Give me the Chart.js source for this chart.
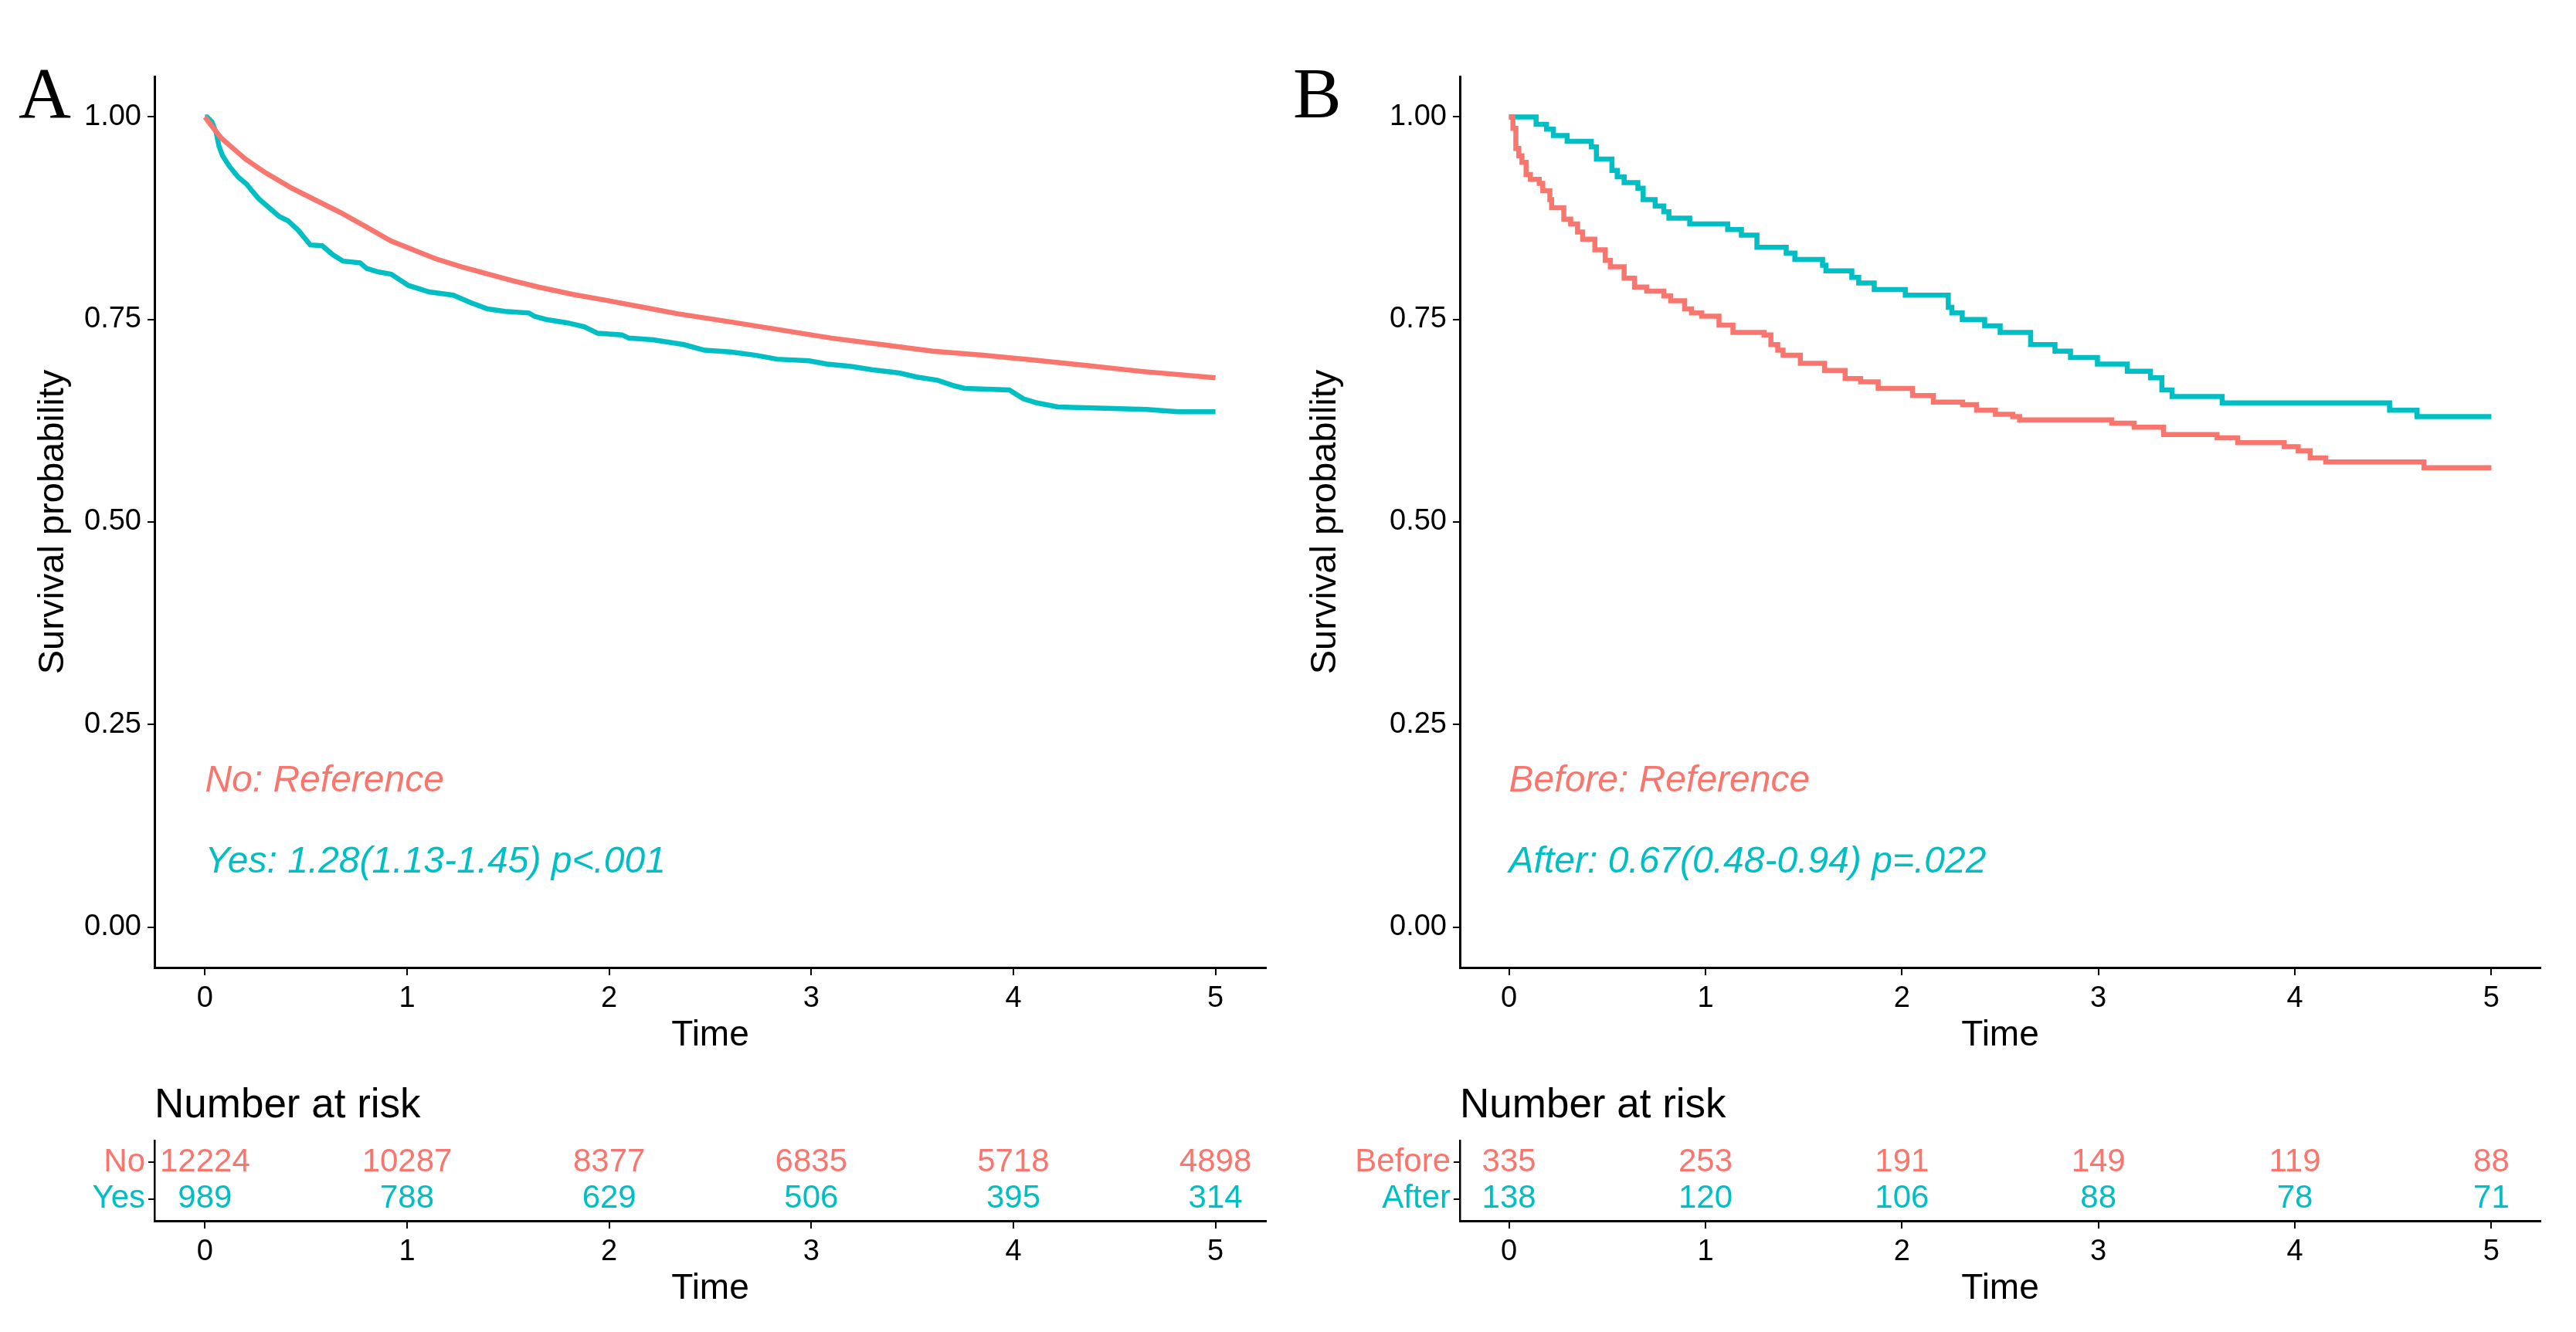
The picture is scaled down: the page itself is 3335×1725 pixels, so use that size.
<!DOCTYPE html>
<html>
<head>
<meta charset="utf-8">
<script src="https://cdn.jsdelivr.net/npm/chart.js@4.4.1/dist/chart.umd.min.js"></script>
<style>
  html, body { margin: 0; padding: 0; background: #fff; }
  body { width: 3335px; height: 1725px; position: relative; overflow: hidden; }
  canvas { position: absolute; }
</style>
</head>
<body>
<canvas id="kmA" width="1700" height="1400" style="left:0px;top:0px"></canvas>
<canvas id="kmB" width="1675" height="1400" style="left:1660px;top:0px"></canvas>
<canvas id="riskA" width="1700" height="345" style="left:0px;top:1380px"></canvas>
<canvas id="riskB" width="1675" height="345" style="left:1660px;top:1380px"></canvas>
<script>
const RED = "#F8766D";
const CYAN = "#00BFC4";
const FONT = '"Liberation Sans", Arial, sans-serif';

const X_TICKS = [0, 1, 2, 3, 4, 5];
const Y_TICKS = [0, 0.25, 0.5, 0.75, 1];

// panel A - No
const A_NO_T = [0, 0.03, 0.08, 0.14, 0.2, 0.3, 0.43, 0.55, 0.67, 0.8, 0.92, 1.03, 1.14, 1.27, 1.4, 1.52, 1.65, 1.82, 2.0, 2.17, 2.34, 2.6, 2.85, 3.1, 3.35, 3.6, 3.85, 4.1, 4.37, 4.63, 5.0];
const A_NO_S = [1.0, 0.99, 0.974, 0.961, 0.948, 0.931, 0.912, 0.897, 0.882, 0.864, 0.847, 0.836, 0.825, 0.815, 0.806, 0.798, 0.79, 0.781, 0.773, 0.765, 0.757, 0.747, 0.737, 0.727, 0.719, 0.711, 0.706, 0.7, 0.693, 0.686, 0.678];
// panel A - Yes
const A_YES_T = [0, 0.01, 0.034, 0.056, 0.069, 0.087, 0.121, 0.163, 0.206, 0.232, 0.266, 0.317, 0.368, 0.41, 0.462, 0.521, 0.58, 0.632, 0.683, 0.767, 0.8, 0.853, 0.921, 1.007, 1.109, 1.228, 1.313, 1.398, 1.484, 1.603, 1.63, 1.688, 1.79, 1.876, 1.943, 2.063, 2.097, 2.216, 2.37, 2.472, 2.6, 2.72, 2.831, 2.99, 3.078, 3.197, 3.299, 3.435, 3.521, 3.624, 3.709, 3.759, 3.98, 4.05, 4.117, 4.22, 4.66, 4.816, 5.0];
const A_YES_S = [1.0, 1.0, 0.994, 0.98, 0.964, 0.952, 0.939, 0.926, 0.917, 0.909, 0.899, 0.888, 0.877, 0.872, 0.86, 0.842, 0.841, 0.83, 0.822, 0.82, 0.813, 0.809, 0.806, 0.792, 0.784, 0.78, 0.771, 0.763, 0.76, 0.758, 0.754, 0.75, 0.746, 0.741, 0.733, 0.731, 0.727, 0.725, 0.719, 0.712, 0.71, 0.706, 0.701, 0.699, 0.695, 0.692, 0.688, 0.684, 0.679, 0.675, 0.668, 0.665, 0.663, 0.652, 0.647, 0.642, 0.639, 0.636, 0.636];

// panel B - Before
const B_BEFORE_T = [0, 0.02, 0.035, 0.05, 0.066, 0.087, 0.109, 0.154, 0.172, 0.208, 0.217, 0.279, 0.314, 0.349, 0.375, 0.437, 0.49, 0.516, 0.586, 0.639, 0.701, 0.788, 0.823, 0.894, 0.929, 0.981, 1.069, 1.14, 1.298, 1.333, 1.368, 1.395, 1.483, 1.606, 1.711, 1.79, 1.879, 2.054, 2.16, 2.309, 2.38, 2.476, 2.564, 2.599, 3.068, 3.182, 3.332, 3.604, 3.709, 3.946, 4.017, 4.078, 4.157, 4.657, 5.0];
const B_BEFORE_S = [1.0, 0.986, 0.961, 0.952, 0.944, 0.929, 0.923, 0.918, 0.909, 0.898, 0.888, 0.874, 0.868, 0.858, 0.849, 0.836, 0.823, 0.815, 0.801, 0.79, 0.785, 0.779, 0.773, 0.763, 0.758, 0.754, 0.743, 0.734, 0.731, 0.719, 0.712, 0.706, 0.696, 0.687, 0.677, 0.673, 0.665, 0.656, 0.648, 0.645, 0.638, 0.633, 0.63, 0.626, 0.622, 0.617, 0.608, 0.604, 0.598, 0.593, 0.588, 0.579, 0.574, 0.567, 0.567];
// panel B - After
const B_AFTER_T = [0, 0.138, 0.191, 0.226, 0.296, 0.419, 0.445, 0.524, 0.551, 0.586, 0.656, 0.683, 0.744, 0.788, 0.814, 0.92, 1.113, 1.183, 1.262, 1.411, 1.455, 1.596, 1.613, 1.745, 1.78, 1.859, 2.017, 2.236, 2.254, 2.307, 2.421, 2.5, 2.655, 2.779, 2.858, 2.995, 3.147, 3.265, 3.323, 3.375, 3.63, 4.482, 4.622, 5.0];
const B_AFTER_S = [1.0, 0.991, 0.985, 0.977, 0.97, 0.963, 0.948, 0.934, 0.926, 0.919, 0.912, 0.898, 0.89, 0.883, 0.875, 0.868, 0.861, 0.854, 0.839, 0.832, 0.824, 0.817, 0.81, 0.802, 0.795, 0.787, 0.78, 0.765, 0.758, 0.75, 0.742, 0.734, 0.719, 0.711, 0.703, 0.695, 0.686, 0.678, 0.663, 0.655, 0.647, 0.638, 0.63, 0.63];

const GROUPS_A = ["No", "Yes"];
const GROUPS_B = ["Before", "After"];
const RISK_A_NO = [12224, 10287, 8377, 6835, 5718, 4898];
const RISK_A_YES = [989, 788, 629, 506, 395, 314];
const RISK_B_BEFORE = [335, 253, 191, 149, 119, 88];
const RISK_B_AFTER = [138, 120, 106, 88, 78, 71];

const HR_A = ["No: Reference", "Yes: 1.28(1.13-1.45) p<.001"];
const HR_B = ["Before: Reference", "After: 0.67(0.48-0.94) p=.022"];
const HR_Y = [0.18, 0.08];

const toPoints = (t, s) => t.map((v, i) => ({ x: v, y: s[i] }));

function axisX(height, tickSize) {
  return {
    type: "linear",
    min: -0.25,
    max: 5.25,
    afterBuildTicks: (s) => { s.ticks = X_TICKS.map((v) => ({ value: v })); },
    afterFit: (s) => { s.height = height; },
    grid: { display: true, drawOnChartArea: false, drawTicks: true, tickLength: 10, color: "#000", lineWidth: 2 },
    border: { display: true, color: "#000", width: 3 },
    ticks: { font: { family: FONT, size: tickSize }, color: "#000", padding: 8, maxRotation: 0, callback: (v) => String(v) },
  };
}

function kmChart(id, cfg) {
  const textPlugin = {
    id: "kmText",
    afterDraw(chart) {
      const ctx = chart.ctx;
      const a = chart.chartArea;
      const xs = chart.scales.x;
      const ys = chart.scales.y;
      ctx.save();
      ctx.fillStyle = "#000";
      ctx.textBaseline = "alphabetic";
      ctx.textAlign = "left";
      ctx.font = '94px "Liberation Serif", "Times New Roman", serif';
      ctx.fillText(cfg.letter, cfg.letterX, 152);

      ctx.font = "46px " + FONT;
      ctx.textAlign = "center";
      ctx.fillText("Time", (a.left + a.right) / 2, 1354);

      ctx.save();
      ctx.translate(cfg.yTitleX, (a.top + a.bottom) / 2);
      ctx.rotate(-Math.PI / 2);
      ctx.font = "47px " + FONT;
      ctx.fillText("Survival probability", 0, 0);
      ctx.restore();

      ctx.font = "italic 48px " + FONT;
      ctx.textAlign = "left";
      ctx.textBaseline = "middle";
      cfg.hr.forEach((txt, i) => {
        ctx.fillStyle = i === 0 ? RED : CYAN;
        ctx.fillText(txt, xs.getPixelForValue(0), ys.getPixelForValue(HR_Y[i]));
      });
      ctx.restore();
    },
  };

  return new Chart(document.getElementById(id), {
    type: "line",
    data: {
      datasets: [
        { data: toPoints(cfg.t1, cfg.s1), borderColor: RED, borderWidth: 6.5, pointRadius: 0, stepped: cfg.stepped, tension: 0 },
        { data: toPoints(cfg.t2, cfg.s2), borderColor: CYAN, borderWidth: 6.5, pointRadius: 0, stepped: cfg.stepped, tension: 0 },
      ],
    },
    options: {
      responsive: false,
      animation: false,
      devicePixelRatio: 1,
      layout: { padding: { left: 0, right: cfg.padRight, top: 99, bottom: 0 } },
      plugins: { legend: { display: false }, tooltip: { enabled: false } },
      scales: {
        x: axisX(147, 38),
        y: {
          type: "linear",
          min: -0.05,
          max: 1.05,
          afterBuildTicks: (s) => { s.ticks = Y_TICKS.map((v) => ({ value: v })); },
          afterFit: (s) => { s.width = cfg.yWidth; },
          grid: { display: true, drawOnChartArea: false, drawTicks: true, tickLength: 9, color: "#000", lineWidth: 2 },
          border: { display: true, color: "#000", width: 3 },
          ticks: { font: { family: FONT, size: 38 }, color: "#000", padding: 8, callback: (v) => v.toFixed(2) },
        },
      },
    },
    plugins: [textPlugin],
  });
}

function riskChart(id, cfg) {
  const tablePlugin = {
    id: "riskText",
    afterDraw(chart) {
      const ctx = chart.ctx;
      const a = chart.chartArea;
      const xs = chart.scales.x;
      const ys = chart.scales.y;
      ctx.save();
      ctx.fillStyle = "#000";
      ctx.textBaseline = "alphabetic";
      ctx.textAlign = "left";
      ctx.font = "53px " + FONT;
      ctx.fillText("Number at risk", a.left, 67);

      ctx.font = "46px " + FONT;
      ctx.textAlign = "center";
      ctx.fillText("Time", (a.left + a.right) / 2, 302);

      ctx.font = "42px " + FONT;
      ctx.textBaseline = "middle";
      [cfg.row1, cfg.row2].forEach((row, r) => {
        ctx.fillStyle = r === 0 ? RED : CYAN;
        row.forEach((n, i) => {
          ctx.fillText(String(n), xs.getPixelForValue(X_TICKS[i]), ys.getPixelForValue(2 - r));
        });
      });
      ctx.restore();
    },
  };

  return new Chart(document.getElementById(id), {
    type: "line",
    data: { datasets: [] },
    options: {
      responsive: false,
      animation: false,
      devicePixelRatio: 1,
      layout: { padding: { left: 0, right: cfg.padRight, top: 97, bottom: 0 } },
      plugins: { legend: { display: false }, tooltip: { enabled: false } },
      scales: {
        x: axisX(144, 38),
        y: {
          type: "linear",
          min: 0.4,
          max: 2.6,
          afterBuildTicks: (s) => { s.ticks = [{ value: 1 }, { value: 2 }]; },
          afterFit: (s) => { s.width = cfg.yWidth; },
          grid: { display: true, drawOnChartArea: false, drawTicks: true, tickLength: 8, color: "#000", lineWidth: 2 },
          border: { display: true, color: "#000", width: 2.5 },
          ticks: {
            font: { family: FONT, size: 42 },
            padding: 4,
            color: (c) => (c.tick && c.tick.value === 2 ? RED : CYAN),
            callback: (v) => (v === 2 ? cfg.groups[0] : cfg.groups[1]),
          },
        },
      },
    },
    plugins: [tablePlugin],
  });
}

kmChart("kmA", { t1: A_NO_T, s1: A_NO_S, t2: A_YES_T, s2: A_YES_S, stepped: false, letter: "A", letterX: 24, yTitleX: 82, yWidth: 200, padRight: 61, hr: HR_A });
kmChart("kmB", { t1: B_BEFORE_T, s1: B_BEFORE_S, t2: B_AFTER_T, s2: B_AFTER_S, stepped: true, letter: "B", letterX: 14, yTitleX: 69, yWidth: 230, padRight: 46, hr: HR_B });
riskChart("riskA", { groups: GROUPS_A, row1: RISK_A_NO, row2: RISK_A_YES, yWidth: 200, padRight: 61 });
riskChart("riskB", { groups: GROUPS_B, row1: RISK_B_BEFORE, row2: RISK_B_AFTER, yWidth: 230, padRight: 46 });
</script>
</body>
</html>
